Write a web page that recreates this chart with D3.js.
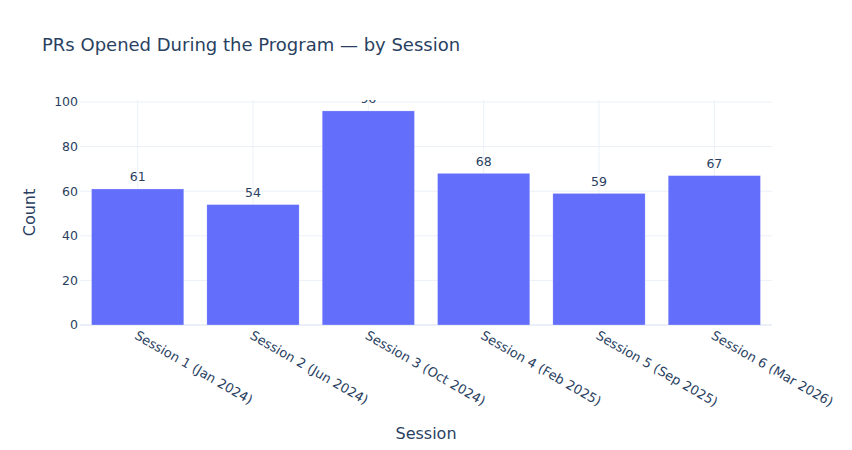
<!DOCTYPE html>
<html>
<head>
<meta charset="utf-8">
<script src="https://cdn.jsdelivr.net/npm/d3@7"></script>
<style>
  body { margin: 0; background: #fff; }
  text { font-family: "DejaVu Sans", sans-serif; fill: #2a3f5f; }
</style>
</head>
<body>
<script>
// data
var sessions = ["Session 1 (Jan 2024)", "Session 2 (Jun 2024)", "Session 3 (Oct 2024)",
                "Session 4 (Feb 2025)", "Session 5 (Sep 2025)", "Session 6 (Mar 2026)"];
var counts = [61, 54, 96, 68, 59, 67];
var yTicks = [0, 20, 40, 60, 80, 100];

var W = 852, H = 450;
var margin = {top: 100, right: 80, bottom: 125, left: 80},
    width = W - margin.left - margin.right,
    height = H - margin.top - margin.bottom;

var svg = d3.select("body").append("svg")
    .attr("width", W)
    .attr("height", H);

var g = svg.append("g")
    .attr("transform", "translate(" + margin.left + "," + margin.top + ")");

var x = d3.scaleBand().domain(sessions).range([0, width])
    .paddingInner(0.2).paddingOuter(0.1);
var y = d3.scaleLinear().domain([0, 100.9]).range([height, 0]);

// clip like plotly (labels cut at plot top)
svg.append("defs").append("clipPath").attr("id", "plotclip")
  .append("rect").attr("width", width).attr("height", height);

// gridlines
g.selectAll(".ygrid").data(yTicks.filter(function(d) { return d > 0; })).enter()
  .append("line")
    .attr("x1", 0).attr("x2", width)
    .attr("y1", function(d) { return y(d); })
    .attr("y2", function(d) { return y(d); })
    .attr("stroke", "#ebf0f8").attr("stroke-width", 1);

g.selectAll(".xgrid").data(sessions).enter()
  .append("line")
    .attr("x1", function(d) { return x(d) + x.bandwidth() / 2; })
    .attr("x2", function(d) { return x(d) + x.bandwidth() / 2; })
    .attr("y1", 0).attr("y2", height)
    .attr("stroke", "#ebf0f8").attr("stroke-width", 1);

// zero line
g.append("line")
  .attr("x1", 0).attr("x2", width)
  .attr("y1", y(0)).attr("y2", y(0))
  .attr("stroke", "#ebf0f8").attr("stroke-width", 2);

var plot = g.append("g").attr("clip-path", "url(#plotclip)");

// bars
plot.selectAll("rect.bar").data(counts).enter()
  .append("rect")
    .attr("class", "bar")
    .attr("x", function(d, i) { return x(sessions[i]); })
    .attr("width", x.bandwidth())
    .attr("y", function(d) { return y(d); })
    .attr("height", function(d) { return y(0) - y(d); })
    .attr("fill", "#636efa")
    .attr("stroke", "#ffffff").attr("stroke-opacity", 0.5)
    .attr("stroke-width", 0.5);

// value labels
plot.selectAll("text.val").data(counts).enter()
  .append("text")
    .attr("class", "val")
    .attr("x", function(d, i) { return x(sessions[i]) + x.bandwidth() / 2; })
    .attr("y", function(d) { return y(d) - 7.5; })
    .attr("text-anchor", "middle")
    .attr("font-size", 12.5)
    .text(function(d) { return d; });

// y axis labels
g.selectAll(".ytick").data(yTicks).enter()
  .append("text")
    .attr("x", -2)
    .attr("y", function(d) { return y(d); })
    .attr("dy", "0.35em")
    .attr("text-anchor", "end")
    .attr("font-size", 12.5)
    .text(function(d) { return d; });

// x axis labels, rotated 30 deg
g.selectAll(".xtick").data(sessions).enter()
  .append("text")
    .attr("transform", function(d) {
      return "translate(" + (x(d) + x.bandwidth() / 2 - 4) + "," + (height + 13) + ") rotate(30)";
    })
    .attr("text-anchor", "start")
    .attr("font-size", 13)
    .text(function(d) { return d; });

// titles
svg.append("text")
  .attr("x", 42).attr("y", 51)
  .attr("font-size", 18)
  .text("PRs Opened During the Program \u2014 by Session");

svg.append("text")
  .attr("x", margin.left + width / 2).attr("y", 439)
  .attr("text-anchor", "middle")
  .attr("font-size", 16)
  .text("Session");

svg.append("text")
  .attr("transform", "translate(35," + (margin.top + height / 2) + ") rotate(-90)")
  .attr("text-anchor", "middle")
  .attr("font-size", 16)
  .text("Count");
</script>
</body>
</html>
